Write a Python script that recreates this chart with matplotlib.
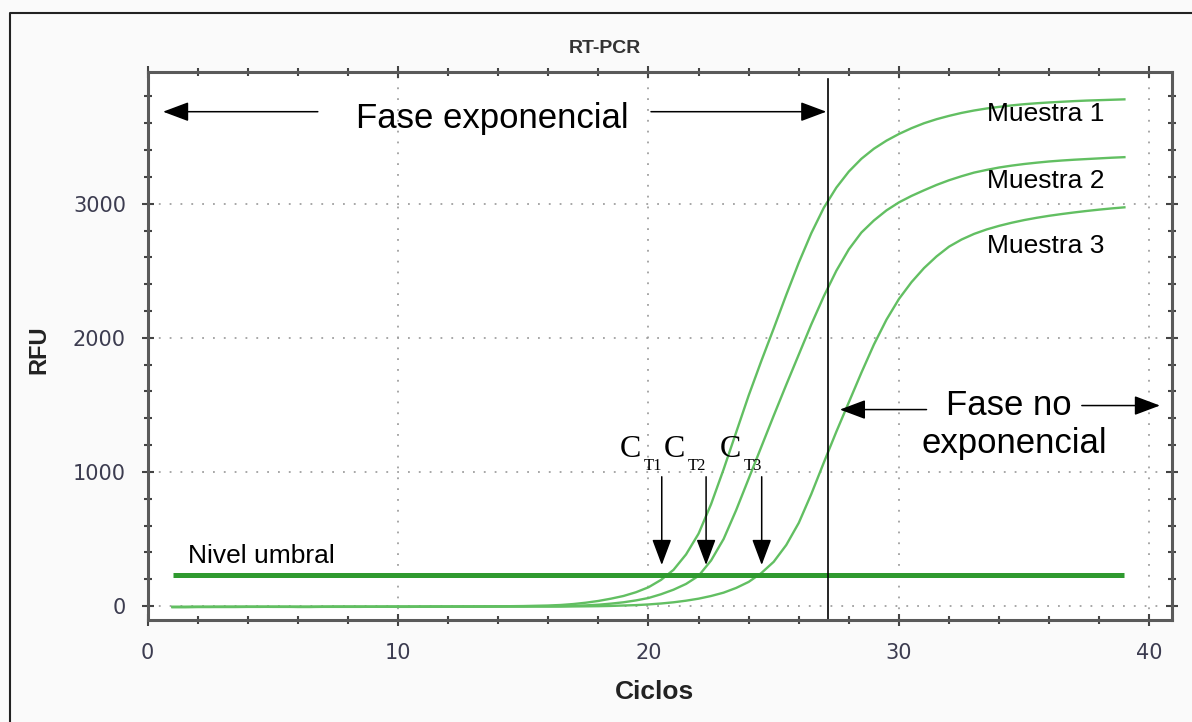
import matplotlib.pyplot as plt
import numpy as np
from matplotlib.lines import Line2D
from matplotlib.ticker import MultipleLocator

plt.rcParams['font.family'] = ['Liberation Sans', 'DejaVu Sans']

# curvas de amplificacion (RFU cada medio ciclo, de 1 a 39)
ciclos = np.arange(1, 39.5, 0.5)
muestra1 = [-6, -6, -6, -6, -5, -5, -5, -5, -6, -6, -5, -5, -5, -4, -4, -4, -5, -4, -4, -4,
            -4, -3, -3, -3, -3, -2, -2, -1,
            0, 2, 4, 8, 15, 25, 38, 55, 75, 103, 140, 195, 270, 385, 540, 760, 1020, 1295,
            1570, 1825, 2070, 2320, 2560, 2780, 2970, 3120, 3240, 3335, 3410, 3470, 3520,
            3563, 3600, 3630, 3655, 3677, 3695, 3710, 3722, 3733, 3742, 3749, 3755, 3760,
            3765, 3769, 3772, 3775, 3778]
muestra2 = [-7, -7, -6, -6, -6, -6, -6, -6, -5, -5, -6, -6, -5, -5, -5, -5, -5, -5, -4, -4,
            -4, -4, -4, -3, -3, -3, -3, -2,
            -2, -1, -1, 0, 2, 5, 10, 18, 28, 42, 60, 88, 122, 165, 225, 340, 500, 715, 950,
            1185, 1420, 1650, 1875, 2100, 2310, 2500, 2660, 2785, 2875, 2950, 3010, 3058,
            3100, 3140, 3175, 3205, 3232, 3252, 3270, 3284, 3296, 3306, 3315, 3322, 3328,
            3333, 3338, 3343, 3347]
muestra3 = [-8, -8, -7, -7, -7, -7, -6, -6, -6, -6, -7, -7, -6, -6, -6, -6, -5, -5, -6, -6,
            -5, -5, -5, -5, -5, -5, -4, -4,
            -4, -4, -4, -4, -3, -2, -1, 1, 4, 7, 12, 19, 28, 40, 55, 75, 100, 135, 180, 245,
            330, 455, 620, 835, 1070, 1300, 1520, 1740, 1950, 2135, 2290, 2415, 2520, 2607,
            2680, 2733, 2775, 2808, 2835, 2858, 2878, 2895, 2910, 2923, 2935, 2946, 2956,
            2965, 2973]
nombres = ['Muestra 1', 'Muestra 2', 'Muestra 3']
umbral = 228
corte = 27.17          # fin de la fase exponencial
ct_x = [20.53, 22.30, 24.52]
ct_txt = ['T1', 'T2', 'T3']

fig = plt.figure(figsize=(11.92, 7.22), dpi=100, facecolor='#fafafa')
ax = fig.add_axes([147.5/1192, 1-620/722, (1172-147.5)/1192, (620-72)/722])
ax.set_facecolor('white')
ax.set_xlim(0, 40.9)
ax.set_ylim(-104, 3982)

for y in (muestra1, muestra2, muestra3):
    ax.plot(ciclos, y, color='#62bf62', lw=1.7, solid_joinstyle='round')
ax.hlines(umbral, ciclos[0], ciclos[-1], color='#2f9a2f', lw=3.6)
ax.plot([corte, corte], [-104, 3930], color='black', lw=1.2)

ax.xaxis.set_major_locator(MultipleLocator(10))
ax.xaxis.set_minor_locator(MultipleLocator(2))
ax.yaxis.set_major_locator(MultipleLocator(1000))
ax.yaxis.set_minor_locator(MultipleLocator(200))
ax.grid(which='major', color='#a0a0a0', lw=1.3, ls=(0, (1, 5)))
ax.set_axisbelow(True)
ax.tick_params(which='both', direction='inout', top=True, right=True,
               color='#444444', width=1.5)
ax.tick_params(which='major', length=9)
ax.tick_params(which='minor', length=6)
ax.tick_params(axis='x', pad=12, labelsize=15, labelcolor='#3c3c50')
ax.tick_params(axis='y', pad=11, labelsize=15, labelcolor='#3c3c50')
for lab in ax.get_xticklabels() + ax.get_yticklabels():
    lab.set_family('DejaVu Sans')
for s in ax.spines.values():
    s.set_color('#5a5a5a')
    s.set_linewidth(2.2)

ax.set_title('RT-PCR', x=0.4466, fontsize=14, fontweight='bold', color='#333333', pad=14)
ax.set_xlabel('Ciclos', fontsize=19, fontweight='bold', color='#222222')
ax.xaxis.set_label_coords(0.495, -0.1095)
ax.set_ylabel('RFU', fontsize=17, fontweight='bold', color='#222222')
ax.yaxis.set_label_coords(-0.095, 0.493)


def flecha(x0, y0, x1, y1):
    ax.annotate('', xy=(x1, y1), xytext=(x0, y0),
                arrowprops=dict(arrowstyle='-|>,head_length=0.8,head_width=0.3',
                                mutation_scale=20, color='black', lw=1.1,
                                shrinkA=0, shrinkB=0))


# fase exponencial
ax.text(13.75, 3568, 'Fase exponencial', fontsize=25, ha='center', va='baseline')
flecha(6.8, 3686, 0.62, 3686)
flecha(20.1, 3686, 27.1, 3686)

# fase no exponencial
ax.text(34.37, 1424, 'Fase no', fontsize=25, ha='center', va='baseline')
ax.text(34.59, 1141, 'exponencial', fontsize=25, ha='center', va='baseline')
flecha(31.1, 1465, 27.64, 1465)
flecha(37.3, 1495, 40.42, 1495)

# etiquetas de las muestras
for nombre, yb in zip(nombres, [3617, 3120, 2630]):
    ax.text(33.5, yb, nombre, fontsize=19, va='baseline')

ax.text(1.63, 318, 'Nivel umbral', fontsize=19, va='baseline')

# ciclos umbral
for x, t in zip(ct_x, ct_txt):
    ax.text(x - 1.68, 1113, 'C', family='Liberation Serif', fontsize=23, va='baseline')
    ax.text(x - 0.72, 1012, t, family='Liberation Serif', fontsize=12, va='baseline')
    flecha(x, 964, x, 306)

fig.add_artist(Line2D([10/1192, 10/1192, 1.0], [0, 1-13/722, 1-13/722],
                      transform=fig.transFigure, color='#222222', lw=1.5))

fig.savefig('out.png', dpi=100, facecolor=fig.get_facecolor())
